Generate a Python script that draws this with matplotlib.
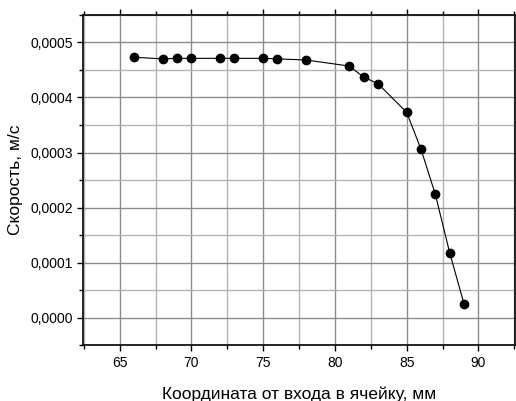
import numpy as np
import matplotlib.pyplot as plt
from matplotlib.ticker import MultipleLocator, FuncFormatter

plt.rcParams['font.family'] = ['Liberation Sans', 'DejaVu Sans']

# --- данные ---
x_mm = [66, 68, 69, 70, 72, 73, 75, 76, 78, 81, 82, 83, 85, 86, 87, 88, 89]
v_ms = [0.000473, 0.000470, 0.000471, 0.000471, 0.000471, 0.000471, 0.000471,
        0.000470, 0.000468, 0.000457, 0.000437, 0.000425, 0.000373, 0.000306,
        0.000224, 0.000118, 0.000025]

fig = plt.figure(figsize=(5.16, 4.01), dpi=100)
ax = fig.add_axes([0.161, 0.139, 0.837, 0.824])

ax.plot(x_mm, v_ms, '-o', color='black', lw=0.8, ms=6, zorder=3)

ax.set_xlim(62.45, 92.55)
ax.set_ylim(-0.00005, 0.00055)

ax.xaxis.set_major_locator(MultipleLocator(5))
ax.xaxis.set_minor_locator(MultipleLocator(2.5))
ax.yaxis.set_major_locator(MultipleLocator(0.0001))
ax.yaxis.set_minor_locator(MultipleLocator(0.00005))
ax.yaxis.set_major_formatter(FuncFormatter(lambda v, p: ('%.4f' % v).replace('-', '').replace('.', ',')))

ax.grid(True, which='major', color='#8c8c8c', lw=1.0)
ax.grid(True, which='minor', color='#b5b5b5', lw=1.0)
ax.set_axisbelow(True)

ax.tick_params(which='both', direction='out', labelsize=10, top=True, right=False, width=1)
ax.tick_params(which='major', length=4)
ax.tick_params(which='minor', length=3)
for s in ax.spines.values():
    s.set_linewidth(1.2)

ax.set_xlabel('Координата от входа в ячейку, мм', fontsize=12.5, labelpad=12)
ax.set_ylabel('Скорость, м/с', fontsize=12.5, labelpad=5)

fig.savefig('out.png', dpi=100)
